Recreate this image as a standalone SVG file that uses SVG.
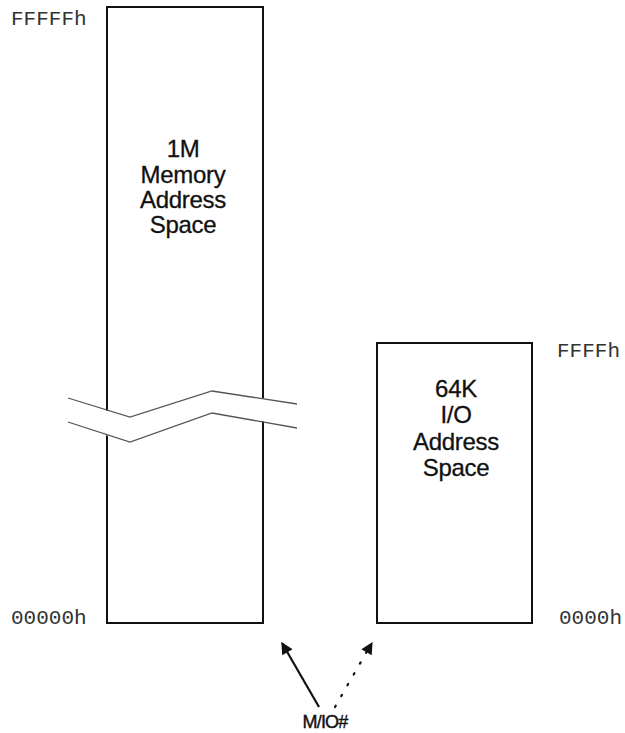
<svg xmlns="http://www.w3.org/2000/svg" width="625" height="733" viewBox="0 0 625 733">
<style>
.box{fill:#fff;stroke:#111;stroke-width:2}
.mono{font-family:"Liberation Mono","Courier New",monospace;font-size:21px;fill:#333}
.lbl{font-family:"Liberation Sans",Arial,sans-serif;font-size:24px;fill:#111;text-anchor:middle;letter-spacing:-0.3px;stroke:#111;stroke-width:0.3}
.brk{fill:none;stroke:#555;stroke-width:1.3}
</style>
<defs>
<marker id="ah" viewBox="0 0 10 10" refX="9" refY="5" markerWidth="16" markerHeight="12" markerUnits="userSpaceOnUse" orient="auto">
<path d="M0,0 L10,5 L0,10 Z" fill="#111"/>
</marker>
</defs>
<rect width="625" height="733" fill="#fff"/>
<g id="memory">
<rect class="box" x="107" y="7" width="156" height="616"/>
<text class="lbl" x="183" y="157">1M</text>
<text class="lbl" x="183" y="183">Memory</text>
<text class="lbl" x="183" y="208">Address</text>
<text class="lbl" x="183" y="233">Space</text>
<polygon points="60,398 130,417 212,391 305,404 305,428 212,413 130,442 60,422" fill="#fff"/>
<polyline class="brk" points="68,398 130,417 212,391 297,404"/>
<polyline class="brk" points="68,422 130,442 212,413 297,428"/>
</g>
<g id="io">
<rect class="box" x="377" y="343" width="155" height="280"/>
<text class="lbl" x="456" y="397">64K</text>
<text class="lbl" x="456" y="423">I/O</text>
<text class="lbl" x="456" y="450">Address</text>
<text class="lbl" x="456" y="476">Space</text>
</g>
<g id="labels">
<text class="mono" x="11" y="25">FFFFFh</text>
<text class="mono" x="11" y="624">00000h</text>
<text class="mono" x="557" y="357">FFFFh</text>
<text class="mono" x="559" y="624">0000h</text>
</g>
<g id="connectors">
<line x1="319" y1="707" x2="282" y2="643" stroke="#111" stroke-width="2.2" marker-end="url(#ah)"/>
<line x1="335" y1="707" x2="370" y2="646" stroke="#111" stroke-width="2.2" stroke-dasharray="1.5 11" stroke-linecap="round"/>
<line x1="365" y1="655" x2="372" y2="643" stroke="#111" stroke-width="2" marker-end="url(#ah)" stroke-opacity="0"/>
</g>
<g id="mio">
<text x="325" y="728" font-family="Liberation Sans,Arial,sans-serif" font-size="18" fill="#111" stroke="#111" stroke-width="0.4" text-anchor="middle" letter-spacing="-0.8">M/IO#</text>
</g>
</svg>
